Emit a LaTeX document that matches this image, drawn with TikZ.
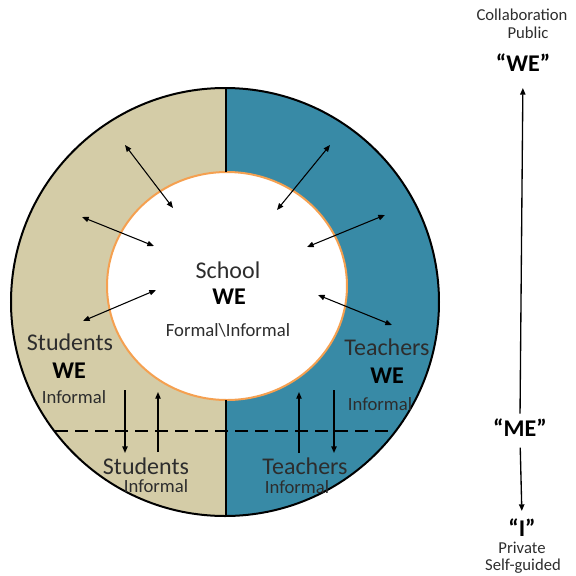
\documentclass[tikz,border=0pt]{standalone}
\usepackage{fontspec}
\setmainfont{Carlito}
\usetikzlibrary{arrows.meta}

\definecolor{sandfill}{RGB}{212,204,167}
\definecolor{tealfill}{RGB}{56,138,166}
\definecolor{ringorange}{RGB}{245,160,80}
\definecolor{txtgrey}{RGB}{45,45,45}

\tikzset{every picture/.style={line width=0.75pt}}
\tikzset{
  twoway/.style={{Triangle[length=5pt,width=4pt]}-{Triangle[length=5pt,width=4pt]},line width=0.8pt},
  oneway/.style={-{Triangle[length=5pt,width=4pt]},line width=1pt},
  grouplabel/.style={inner sep=0.75pt,font=\fontsize{18}{20}\selectfont,text=txtgrey},
  welabel/.style={inner sep=0.75pt,font=\fontsize{18}{20}\selectfont\bfseries,text=black},
  modelabel/.style={inner sep=0.75pt,font=\fontsize{14}{16}\selectfont,text=txtgrey},
  scalelabel/.style={inner sep=0pt,font=\fontsize{12.5}{14}\selectfont,text=txtgrey},
}

\begin{document}
\begin{tikzpicture}[x=0.75pt,y=0.75pt,yscale=-1,xscale=1]
\useasboundingbox (0,0) rectangle (576,576);

%Shape: two halves of the ring
\begin{scope}
\clip (225,302) ellipse [x radius=214,y radius=214];
\fill [sandfill] (0,0) rectangle (226,576);
\fill [tealfill] (226,0) rectangle (576,576);
\end{scope}
%Shape: inner circle
\draw [ringorange,fill=white,line width=1.5pt] (227,286) ellipse [x radius=120,y radius=114];
%Shape: outer circle
\draw [line width=1.5pt] (225,302) ellipse [x radius=214,y radius=214];
%Straight Lines: divider
\draw [line width=1.5pt] (226,88) -- (226,172);
\draw [line width=1.5pt] (226,400) -- (226,516);
%Straight Lines: dashed
\draw [line width=2pt,dash pattern={on 9.5pt off 5.5pt}] (55,431) -- (395,431);

% Text Node
\draw (228,270) node [grouplabel] (school) {School};
\draw (229,297) node [welabel] (schoolwe) {WE};
\draw (228,330) node [modelabel] (schoolmode) {Formal\textbackslash Informal};

% Text Node
\draw (70,342) node [grouplabel] (students) {Students};
\draw (69,371) node [welabel] (studentswe) {WE};
\draw (74,397) node [modelabel] (studentsmode) {Informal};
\draw (146,466) node [grouplabel] (studentsme) {Students};
\draw (156,486) node [modelabel] (studentsmemode) {Informal};

% Text Node
\draw (387,347) node [grouplabel] (teachers) {Teachers};
\draw (387,376) node [welabel] (teacherswe) {WE};
\draw (380,404) node [modelabel] (teachersmode) {Informal};
\draw (305,466) node [grouplabel] (teachersme) {Teachers};
\draw (297,487) node [modelabel] (teachersmemode) {Informal};

%Arrows: ring to school
\coordinate (sa1) at (125,145); \coordinate (sb1) at (173,208);
\coordinate (sa2) at (82,217);  \coordinate (sb2) at (154,246);
\coordinate (sa3) at (83,321);  \coordinate (sb3) at (156,290);
\coordinate (ta1) at (330,145); \coordinate (tb1) at (277,210);
\coordinate (ta2) at (385,215); \coordinate (tb2) at (307,247);
\coordinate (ta3) at (392,325); \coordinate (tb3) at (318,295);
\draw [twoway] (sa1) -- (sb1);
\draw [twoway] (sa2) -- (sb2);
\draw [twoway] (sa3) -- (sb3);
\draw [twoway] (ta1) -- (tb1);
\draw [twoway] (ta2) -- (tb2);
\draw [twoway] (ta3) -- (tb3);

%Arrows: across the dashed line
\coordinate (sdtop) at (125,390); \coordinate (sdbot) at (125,453);
\coordinate (sutop) at (158,392); \coordinate (subot) at (158,452);
\coordinate (tutop) at (299,392); \coordinate (tubot) at (299,453);
\coordinate (tdtop) at (334,390); \coordinate (tdbot) at (334,453);
\draw [oneway] (sdtop) -- (sdbot);
\draw [oneway] (subot) -- (sutop);
\draw [oneway] (tubot) -- (tutop);
\draw [oneway] (tdtop) -- (tdbot);

% Text Node: scale
\draw (522,15) node [scalelabel] (collab) {Collaboration};
\draw (528,33) node [scalelabel] (public) {Public};
\draw (523,63) node [welabel] (we) {“WE”};
\draw (520,428) node [welabel] (me) {“ME”};
\draw (522,528) node [welabel] (i) {“I”};
\draw (522,548) node [scalelabel] (private) {Private};
\draw (523,566) node [scalelabel] (selfguided) {Self-guided};
\draw [oneway,shorten <=3pt,shorten >=11pt] (me.north) -- (we.south);
\draw [oneway,shorten <=7pt,shorten >=5pt] (me.south) -- (i.north);

\end{tikzpicture}
\end{document}
